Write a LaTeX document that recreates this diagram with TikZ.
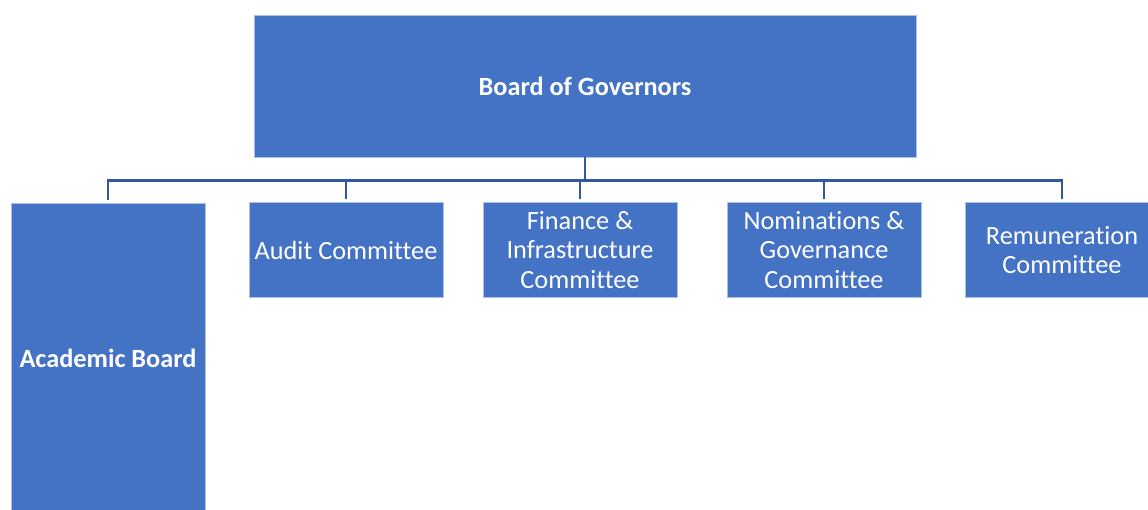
\documentclass[tikz,border=0pt]{standalone}
\usepackage{fontspec}
\setmainfont[Ligatures=CommonOff]{Carlito}
\definecolor{boxblue}{RGB}{68,114,196}
\definecolor{boxedge}{RGB}{170,192,230}
\definecolor{connblue}{RGB}{52,88,156}
\begin{document}
\begin{tikzpicture}[x=1pt,y=-1pt,
  box/.style={rectangle, fill=boxblue, draw=boxedge, line width=0.8pt, inner sep=0pt,
    text=white, align=center, font=\fontsize{26.3}{29.5}\selectfont,
    minimum width=194pt, minimum height=95pt},
  conn/.style={draw=connblue, line width=2.7pt, line join=miter, shorten >=3pt}]
\useasboundingbox (0,0) rectangle (1148,509);
\clip (0,0) rectangle (1148,509);
\node[box, minimum width=662pt, minimum height=142pt, font=\fontsize{26.3}{29.5}\selectfont\bfseries] (bog) at (585,86) {Board of Governors};
\node[box, minimum height=310pt, font=\fontsize{26.3}{29.5}\selectfont\bfseries] (ab) at (108,358) {Academic Board};
\node[box] (audit) at (346,250) {Audit Committee};
\node[box] (fin) at (580,250) {Finance \&\\Infrastructure\\Committee};
\node[box] (nom) at (824,250) {Nominations \&\\Governance\\Committee};
\node[box] (rem) at (1062,250) {Remuneration\\Committee};
\draw[conn] (bog.south) -- ++(0,23) -| (ab.north);
\draw[conn] (bog.south) -- ++(0,23) -| (audit.north);
\draw[conn] (bog.south) -- ++(0,23) -| (fin.north);
\draw[conn] (bog.south) -- ++(0,23) -| (nom.north);
\draw[conn] (bog.south) -- ++(0,23) -| (rem.north);
\end{tikzpicture}
\end{document}
